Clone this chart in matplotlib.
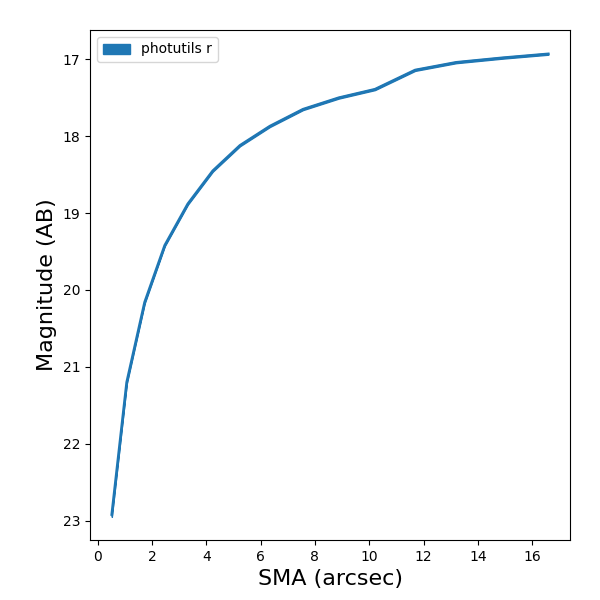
import matplotlib

matplotlib.use("Agg")
import matplotlib.pyplot as plt
import numpy as np

# isophote profile, r band
sma = [0.52, 1.07, 1.73, 2.47, 3.32, 4.24, 5.24, 6.34, 7.56, 8.88,
       10.21, 11.69, 13.20, 14.93, 16.59]
mag = [22.92, 21.20, 20.16, 19.42, 18.88, 18.45, 18.12, 17.87, 17.65, 17.50,
       17.39, 17.14, 17.04, 16.98, 16.93]
mag_err = [0.03, 0.02, 0.015, 0.01, 0.01, 0.01, 0.01, 0.01, 0.01, 0.01,
           0.01, 0.01, 0.01, 0.01, 0.01]

sma = np.array(sma)
mag = np.array(mag)
mag_err = np.array(mag_err)

fig, ax = plt.subplots(figsize=(6, 6), dpi=100)
fig.subplots_adjust(left=0.15, right=0.95, top=0.95, bottom=0.1)

ax.plot(sma, mag, color="C0", lw=2)
ax.fill_between(sma, mag - mag_err, mag + mag_err, color="C0", alpha=1.0,
                label="photutils r")
ax.invert_yaxis()
ax.set_xlabel("SMA (arcsec)", fontsize=16)
ax.set_ylabel("Magnitude (AB)", fontsize=16)
ax.legend(loc="upper left")

fig.savefig("out.png", dpi=100)
